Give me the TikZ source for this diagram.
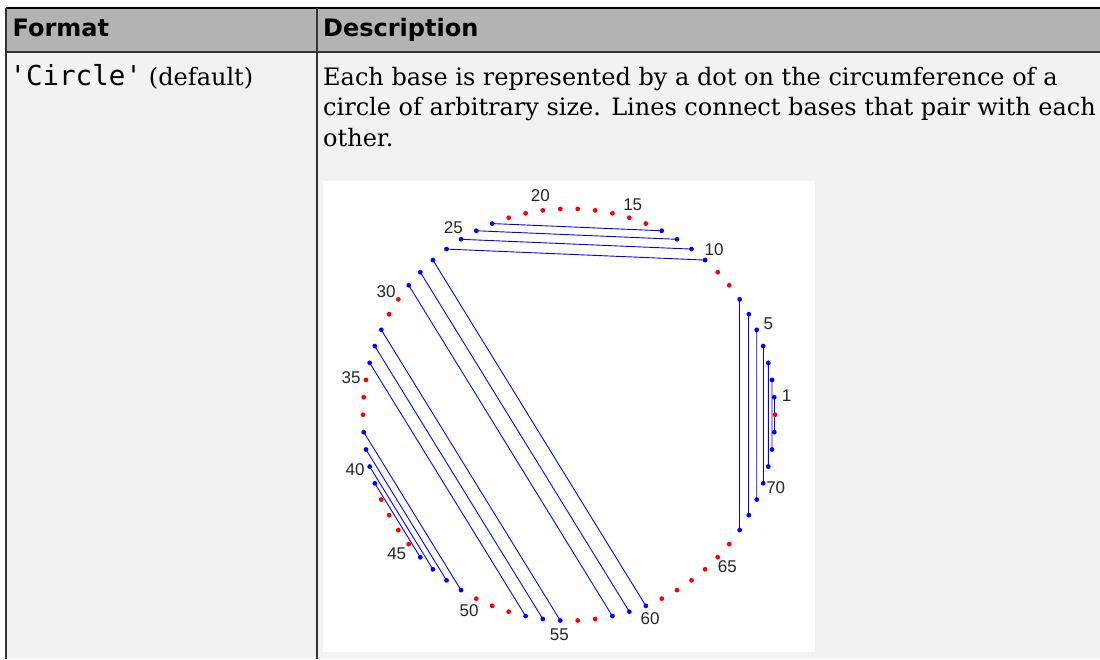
\documentclass[tikz,border=0pt]{standalone}
\usepackage{fontspec}
\setmainfont{DejaVu Serif}
\setsansfont{DejaVu Sans}
\setmonofont{DejaVu Sans Mono}
\newfontfamily\labfont{Liberation Sans}
\definecolor{hdrfill}{RGB}{179,179,179}
\definecolor{bodyfill}{RGB}{242,242,242}
\definecolor{rulecol}{RGB}{51,51,51}
\definecolor{pblue}{RGB}{0,0,255}
\definecolor{pred}{RGB}{255,0,0}
\definecolor{labcol}{RGB}{38,38,38}
\pgfdeclarelayer{back}
\pgfdeclarelayer{mid}
\pgfsetlayers{back,mid,main}
\tikzset{
  hdrtext/.style={font=\sffamily\bfseries\fontsize{24}{29}\selectfont, inner sep=0pt, anchor=base west, text=black},
  bodytext/.style={font=\rmfamily\fontsize{24}{29}\selectfont, inner sep=0pt, anchor=base west, text=black},
  bluedot/.style={circle, fill=pblue, inner sep=0pt, minimum size=4.8pt},
  reddot/.style={circle, fill=pred, inner sep=0pt, minimum size=4.8pt},
  pairline/.style={draw=pblue, line width=0.9pt},
  numlab/.style={font=\labfont\fontsize{17}{19}\selectfont, inner sep=0pt, text=labcol}
}
\begin{document}
\begin{tikzpicture}[x=1pt,y=-1pt]
\useasboundingbox (0,0) rectangle (1100,659);
\begin{pgfonlayer}{back}
  \fill[white] (0,0) rectangle (1100,659);
  \fill[hdrfill] (6,8) rectangle (1100,52);
  \fill[bodyfill] (6,52) rectangle (1100,659);
  \fill[white] (322.7,181) rectangle (815,651.7);
  \draw[black, line width=1.3pt] (6,8) -- (1100,8);
  \draw[rulecol, line width=1.3pt] (6,52) -- (1100,52);
  \draw[rulecol, line width=1.2pt] (6,8) -- (6,659);
  \draw[rulecol, line width=1.7pt] (317,8) -- (317,659);
\end{pgfonlayer}

% table texts
\node[hdrtext] (hformat) at (12.5,36.5) {Format};
\node[hdrtext] (hdesc) at (323,36.5) {Description};
\node[bodytext] (cformat) at (9.3,85.5) {{\ttfamily\fontsize{27.5}{29}\selectfont 'Circle'}\hspace{7pt}(default)};
\node[bodytext] (desc1) at (323,85) {Each base is represented by a dot on the circumference of a};
\node[bodytext] (desc2) at (323,115.5) {circle of arbitrary size. Lines connect bases that pair with each};
\node[bodytext] (desc3) at (323,146) {other.};

% bases
\foreach \k in {1,2,3,4,5,6,7,10,11,12,13,23,24,25,26,27,28,29,32,33,34,38,39,40,41,46,47,48,49,53,54,55,58,59,60,67,68,69,70,71,72,73}
  \node[bluedot] (n\k) at ({569+206*cos(\k*4.864865)},{414.7-206*sin(\k*4.864865)}) {};
\foreach \k in {8,9,14,15,16,17,18,19,20,21,22,30,31,35,36,37,42,43,44,45,50,51,52,56,57,61,62,63,64,65,66,74}
  \node[reddot] (n\k) at ({569+206*cos(\k*4.864865)},{414.7-206*sin(\k*4.864865)}) {};

% pairings
\begin{pgfonlayer}{mid}
\foreach \a/\b in {1/73,2/72,3/71,4/70,5/69,6/68,7/67,10/26,11/25,12/24,13/23,27/60,28/59,29/58,32/55,33/54,34/53,38/49,39/48,40/47,41/46}
  \draw[pairline] (n\a.center) -- (n\b.center);
\end{pgfonlayer}

% numbers
\node[numlab] (l1) at (786.7,396) {1};
\node[numlab] (l5) at (768.3,323.3) {5};
\node[numlab] (l10) at (714,249.3) {10};
\node[numlab] (l15) at (632.7,204.7) {15};
\node[numlab] (l20) at (540.3,196) {20};
\node[numlab] (l25) at (453.3,227.7) {25};
\node[numlab] (l30) at (386,291.7) {30};
\node[numlab] (l35) at (351,377.7) {35};
\node[numlab] (l40) at (355,470) {40};
\node[numlab] (l45) at (396.7,553.3) {45};
\node[numlab] (l50) at (469,611) {50};
\node[numlab] (l55) at (559.3,635) {55};
\node[numlab] (l60) at (650,619) {60};
\node[numlab] (l65) at (727.3,566.7) {65};
\node[numlab] (l70) at (775.7,487.7) {70};
\end{tikzpicture}
\end{document}
